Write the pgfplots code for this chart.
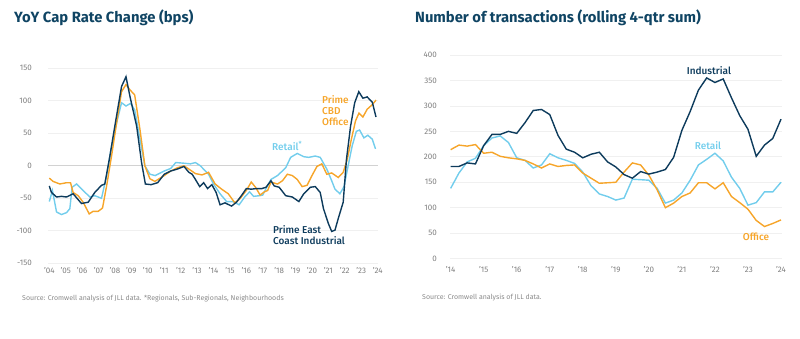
\documentclass[border=0pt]{standalone}
\usepackage{pgfplots}
\pgfplotsset{compat=1.18}
\usepackage{fontspec}
\setmainfont{Fira Sans}
\newfontfamily\medfont{Fira Sans Medium}
\definecolor{navy}{HTML}{0D3B5C}
\definecolor{orng}{HTML}{F6A52A}
\definecolor{lblue}{HTML}{72CDEC}
\definecolor{titlec}{HTML}{0F4463}
\definecolor{tickgrey}{HTML}{7F7F7F}
\definecolor{gridgrey}{HTML}{F0F0F0}
\definecolor{zerogrey}{HTML}{D2D2D2}
\definecolor{srcgrey}{HTML}{8A8A8A}
\pgfplotsset{
  common/.style={
    scale only axis, anchor=south west,
    axis line style={draw=none}, tick style={draw=none},
    ymajorgrids, grid style={color=gridgrey, line width=0.7pt},
    tick label style={font=\fontsize{8}{9}\selectfont, text=tickgrey},
    clip=false,
  },
}
\begin{document}
\begin{tikzpicture}
\path[use as bounding box] (0pt,0pt) rectangle (800pt,338pt);
% ---------- Left chart ----------
\begin{axis}[common,
  at={(48pt,74.7pt)}, width=330pt, height=195pt,
  xmin=2003.92, xmax=2024.02, ymin=-150, ymax=150,
  ytick={-150,-100,-50,0,50,100,150},
  yticklabels={-150,-100,-50,0,50,100,150},
  xtick={2004,2005,...,2024},
  xticklabels={'04,'05,'06,'07,'08,'09,'10,'11,'12,'13,'14,'15,'16,'17,'18,'19,'20,'21,'22,'23,'24},
  yticklabel style={inner sep=0pt, anchor=east, xshift=-16pt},
  xticklabel style={inner sep=0pt, anchor=north, yshift=-4pt},
  extra y ticks={0}, extra y tick labels={},
  extra y tick style={grid style={color=zerogrey, line width=0.9pt}},
]
\addplot[lblue, line width=1.4pt] coordinates {
(2004.0,-55) (2004.19,-38) (2004.44,-71) (2004.74,-75) (2005.05,-72) (2005.25,-66)
(2005.39,-33) (2005.66,-28) (2006.06,-38) (2006.47,-48) (2006.77,-46) (2007.18,-50)
(2007.49,-15) (2007.79,30) (2008.1,66) (2008.4,97) (2008.67,92) (2008.95,96)
(2009.2,86) (2009.52,41) (2009.82,0) (2010.13,-13) (2010.45,-15) (2011.0,-8)
(2011.4,-4) (2011.7,5) (2012.2,4) (2012.6,3) (2012.9,5) (2013.2,0) (2013.7,-13)
(2014.0,-28) (2014.4,-43) (2014.8,-55) (2015.2,-55) (2015.56,-60) (2015.9,-48)
(2016.2,-40) (2016.44,-47) (2016.8,-46) (2017.0,-45) (2017.2,-35) (2017.5,-21)
(2017.9,-15) (2018.4,-3) (2018.7,13) (2019.1,19) (2019.5,14) (2019.8,13)
(2020.2,15) (2020.5,13) (2020.9,-5) (2021.2,-23) (2021.4,-36) (2021.7,-43)
(2021.95,-32) (2022.2,0) (2022.45,31) (2022.7,53) (2022.9,55) (2023.16,43)
(2023.4,47) (2023.67,41) (2023.87,26)
};
\addplot[orng, line width=1.4pt] coordinates {
(2004.0,-19) (2004.23,-24) (2004.64,-28) (2005.05,-26) (2005.29,-26) (2005.45,-41)
(2005.76,-46) (2006.06,-56) (2006.43,-74) (2006.67,-70) (2006.98,-70) (2007.24,-65)
(2007.49,-31) (2007.79,15) (2008.1,66) (2008.4,114) (2008.67,125) (2008.91,117)
(2009.2,109) (2009.52,56) (2009.82,0) (2010.13,-20) (2010.43,-24) (2011.0,-15)
(2011.4,-8) (2011.8,-3) (2012.2,0) (2012.5,-5) (2012.9,-12) (2013.3,-14)
(2013.7,-10) (2014.1,-28) (2014.5,-36) (2014.9,-43) (2015.3,-57) (2015.6,-51)
(2016.0,-38) (2016.3,-25) (2016.56,-33) (2016.84,-45) (2017.1,-40) (2017.3,-38)
(2017.5,-25) (2017.9,-28) (2018.2,-23) (2018.5,-13) (2018.8,-15) (2019.1,-21)
(2019.4,-32) (2019.7,-30) (2020.0,-15) (2020.3,-1) (2020.6,3) (2020.9,-13)
(2021.2,-11) (2021.6,-18) (2021.9,-10) (2022.15,10) (2022.4,41) (2022.65,69)
(2022.86,81) (2023.1,75) (2023.36,87) (2023.67,94) (2023.9,101)
};
\addplot[navy, line width=1.4pt] coordinates {
(2004.0,-31) (2004.13,-41) (2004.44,-48) (2004.74,-47) (2005.05,-48) (2005.45,-43)
(2005.96,-58) (2006.37,-56) (2006.77,-41) (2007.18,-30) (2007.38,-28) (2007.69,15)
(2007.99,61) (2008.4,122) (2008.67,137) (2008.91,107) (2009.32,61) (2009.62,5)
(2009.85,-28) (2010.2,-29) (2010.6,-26) (2011.0,-13) (2011.4,-8) (2011.8,-5)
(2012.2,-1) (2012.5,-10) (2012.7,-13) (2012.9,-21) (2013.16,-32) (2013.4,-26)
(2013.64,-35) (2013.9,-29) (2014.16,-41) (2014.4,-60) (2014.7,-57) (2015.1,-62)
(2015.4,-56) (2015.7,-46) (2016.0,-35) (2016.3,-36) (2016.6,-35) (2016.95,-35)
(2017.2,-33) (2017.5,-23) (2017.7,-31) (2018.0,-33) (2018.4,-46) (2018.8,-48)
(2019.2,-55) (2019.5,-43) (2019.9,-33) (2020.2,-32) (2020.5,-41) (2020.7,-66)
(2021.0,-89) (2021.2,-101) (2021.4,-99) (2021.6,-81) (2021.9,-56) (2022.1,10)
(2022.35,61) (2022.6,97) (2022.85,114) (2023.1,104) (2023.36,106) (2023.67,98)
(2023.9,75)
};
\end{axis}
% ---------- Right chart ----------
\begin{axis}[common,
  at={(450pt,79.4pt)}, width=332pt, height=203.6pt,
  xmin=2013.98, xmax=2024.03, ymin=0, ymax=400,
  ytick={0,50,...,400},
  yticklabels={0,50,100,150,200,250,300,350,400},
  xtick={2014,2015,...,2024},
  xticklabels={'14,'15,'16,'17,'18,'19,'20,'21,'22,'23,'24},
  yticklabel style={inner sep=0pt, anchor=east, xshift=-13pt},
  xticklabel style={inner sep=0pt, anchor=north, yshift=-7.5pt},
]
\addplot[lblue, line width=1.4pt] table[x expr=2014+0.25*\coordindex, y index=0] {
v
138
168
190
197
222
237
241
228
198
193
178
184
206
198
193
187
170
143
127
122
115
119
156
155
154
138
109
115
129
154
184
195
207
192
160
138
105
110
131
131
150
};
\addplot[orng, line width=1.4pt] table[x expr=2014+0.25*\coordindex, y index=0] {
v
214
223
221
224
207
209
201
198
196
193
186
178
186
181
183
184
168
158
148
149
150
170
188
184
164
135
100
109
122
129
149
149
137
149
122
110
97
75
63
69
76
};
\addplot[navy, line width=1.4pt] table[x expr=2014+0.25*\coordindex, y index=0] {
v
181
181
188
186
222
244
244
250
246
267
291
293
283
242
215
209
198
205
209
190
180
165
158
171
166
170
175
199
252
289
331
355
346
353
316
281
254
201
223
236
274
};
\end{axis}
% ---------- Titles, labels, sources ----------
\node[anchor=base west, inner sep=0pt, text=titlec, font=\fontsize{14.8}{17}\selectfont\bfseries] at (14pt,315pt) {YoY Cap Rate Change (bps)};
\node[anchor=base west, inner sep=0pt, text=titlec, font=\fontsize{14.8}{17}\selectfont\bfseries] at (415pt,315pt) {Number of transactions (rolling 4-qtr sum)};
\node[anchor=base west, inner sep=0pt, text=srcgrey, font=\fontsize{7}{8}\selectfont] at (22pt,38pt) {Source: Cromwell analysis of JLL data. *Regionals, Sub-Regionals, Neighbourhoods};
\node[anchor=base west, inner sep=0pt, text=srcgrey, font=\fontsize{7}{8}\selectfont] at (422pt,39pt) {Source: Cromwell analysis of JLL data.};
% left labels
\node[anchor=north west, inner sep=0pt, text=orng, font=\fontsize{10}{11}\selectfont\medfont, align=left] at (322pt,243pt) {Prime\\CBD\\Office};
\node[anchor=west, inner sep=0pt, text=lblue, font=\fontsize{10}{11}\selectfont\medfont] at (272pt,192pt) {Retail\textsuperscript{*}};
\node[anchor=north west, inner sep=0pt, text=navy, font=\fontsize{10}{11}\selectfont\medfont, align=left] at (273pt,113pt) {Prime East\\Coast Industrial};
% right labels
\node[inner sep=0pt, text=navy, font=\fontsize{10}{11}\selectfont\medfont] at (709pt,267pt) {Industrial};
\node[inner sep=0pt, text=lblue, font=\fontsize{10}{11}\selectfont\medfont] at (708pt,192pt) {Retail};
\node[inner sep=0pt, text=orng, font=\fontsize{10}{11}\selectfont\medfont] at (756pt,101pt) {Office};
\end{tikzpicture}
\end{document}
